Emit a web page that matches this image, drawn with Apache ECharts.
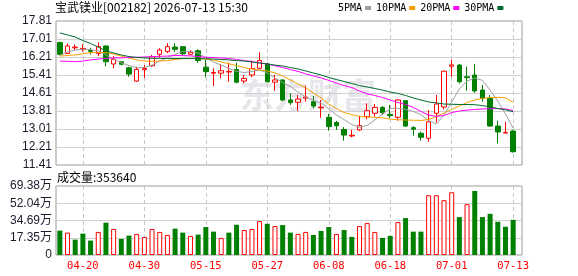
<!DOCTYPE html>
<html><head><meta charset="utf-8">
<script src="https://cdn.jsdelivr.net/npm/echarts@6/dist/echarts.min.js"></script>
<style>html,body{margin:0;padding:0;background:#fff}#c{width:578px;height:276px}</style>
</head><body><div id="c"></div>
<script>
const dates = ['04-15','04-16','04-17','04-20','04-21','04-22','04-23','04-24','04-27','04-28','04-29','04-30',
'05-06','05-07','05-08','05-11','05-12','05-13','05-14','05-15','05-18','05-19','05-20','05-21','05-22','05-25','05-26','05-27','05-28','05-29',
'06-01','06-02','06-03','06-04','06-05','06-08','06-09','06-10','06-11','06-12','06-15','06-16','06-17','06-18','06-22','06-23','06-24','06-25','06-26','06-29','06-30',
'07-01','07-02','07-03','07-06','07-07','07-08','07-09','07-10','07-13'];
const xLabels = ['04-20','04-30','05-15','05-27','06-08','06-18','07-01','07-13'];
const opens  = [16.85,16.37,16.62,16.56,16.50,16.37,16.70,15.90,16.00,15.73,15.14,15.64,15.82,16.33,16.45,16.65,16.67,16.33,16.49,15.76,
15.49,15.49,15.54,15.66,15.14,15.41,15.71,15.90,15.09,15.19,14.30,14.20,14.38,14.22,13.95,13.53,13.30,12.99,12.70,12.97,
13.56,13.71,13.97,13.66,13.53,14.27,13.07,12.82,12.60,13.71,13.99,15.80,15.85,15.33,15.41,14.74,14.37,13.14,12.83,12.92];
const closes = [16.33,16.70,16.65,16.59,16.46,16.67,16.00,16.11,15.89,15.45,15.66,15.70,16.22,16.52,16.67,16.55,16.35,16.42,16.05,15.56,
15.52,15.60,15.57,15.09,15.26,15.70,16.05,15.11,15.19,14.30,14.18,14.34,14.43,14.03,13.98,13.12,13.15,12.74,12.73,13.16,
13.82,13.97,13.73,13.60,14.30,13.14,13.00,12.64,13.33,14.12,15.58,15.86,15.11,15.29,14.70,14.37,13.14,12.88,12.86,12.00];
const lows   = [16.28,16.35,16.52,16.45,16.32,16.25,15.80,15.71,15.83,15.33,15.11,15.28,15.78,16.18,16.39,16.43,16.29,16.30,15.95,15.31,
14.92,15.26,15.11,15.04,15.04,15.31,15.66,15.08,14.71,14.25,14.08,13.82,14.22,13.93,13.51,12.93,12.97,12.49,12.64,12.92,
13.44,13.56,13.63,13.49,13.38,13.10,12.71,12.49,12.45,13.30,13.88,15.33,15.03,14.71,14.62,14.22,13.11,12.37,12.81,11.96];
const highs  = [16.90,16.82,16.77,16.77,16.62,16.86,16.72,16.25,16.02,15.78,15.78,15.85,16.30,16.60,16.82,16.82,16.70,16.51,16.55,16.08,
15.71,15.90,15.96,15.96,15.41,16.05,16.42,15.96,15.41,15.22,14.60,14.52,14.93,14.48,14.30,13.68,13.37,13.09,12.97,13.60,
14.15,14.12,14.03,14.08,14.34,14.30,13.14,12.89,13.85,14.52,15.60,16.08,15.90,15.78,15.90,14.97,14.52,13.38,13.33,12.97];
const ma5  = [16.28,16.44,16.52,16.56,16.54,16.48,16.30,16.12,15.95,15.83,15.74,15.74,15.85,16.03,16.19,16.32,16.46,16.46,16.39,16.17,
15.99,15.85,15.70,15.57,15.52,15.57,15.63,15.50,15.28,15.08,14.90,14.65,14.43,14.28,14.16,13.90,13.63,13.43,13.21,13.08,
13.17,13.41,13.68,13.92,13.93,13.88,13.79,13.65,13.39,13.23,13.63,14.21,14.79,15.14,15.28,15.17,14.74,14.25,13.68,13.05];
const ma10 = [16.25,16.28,16.30,16.35,16.40,16.41,16.40,16.34,16.25,16.17,16.08,16.03,16.02,16.03,16.05,16.10,16.14,16.15,16.14,16.12,
16.08,15.99,15.91,15.83,15.74,15.68,15.63,15.59,15.50,15.37,15.19,15.01,14.83,14.61,14.39,14.12,13.92,13.74,13.65,13.57,
13.54,13.53,13.50,13.45,13.42,13.41,13.40,13.39,13.43,13.57,13.72,13.88,14.03,14.19,14.30,14.37,14.41,14.42,14.39,14.19];
const ma20 = [16.03,16.02,16.00,16.03,16.08,16.12,16.15,16.17,16.17,16.19,16.20,16.21,16.22,16.24,16.25,16.28,16.27,16.26,16.23,16.20,
16.18,16.17,16.14,16.10,16.05,16.01,15.95,15.90,15.82,15.74,15.65,15.57,15.46,15.37,15.28,15.17,15.05,14.94,14.85,14.70,
14.57,14.50,14.41,14.30,14.19,14.10,13.97,13.79,13.63,13.57,13.61,13.74,13.81,13.85,13.88,13.90,13.91,13.92,13.90,13.83];
const ma30 = [17.28,17.19,17.10,16.94,16.81,16.65,16.48,16.39,16.30,16.23,16.19,16.17,16.15,16.15,16.14,16.14,16.14,16.14,16.14,16.13,
16.12,16.10,16.08,16.05,16.03,15.99,15.94,15.90,15.85,15.81,15.74,15.68,15.59,15.50,15.41,15.30,15.21,15.12,15.03,14.94,
14.88,14.81,14.74,14.65,14.59,14.50,14.39,14.30,14.21,14.17,14.12,14.11,14.10,14.10,14.09,14.05,13.99,13.92,13.86,13.78];
const volumes = [245000,225000,155000,215000,145000,232000,325000,262000,162000,195000,212000,182000,262000,232000,202000,265000,225000,192000,205000,281000,
235000,172000,225000,304000,251000,261000,341000,314000,291000,301000,225000,212000,232000,202000,242000,281000,212000,251000,182000,291000,
321000,232000,172000,192000,331000,371000,235000,235000,601000,601000,551000,631000,381000,511000,644000,381000,414000,334000,284000,353640];
const volUp = [0,1,0,0,0,1,0,1,0,0,1,1,1,1,1,0,0,1,0,0,
0,1,0,0,1,1,1,0,1,0,0,1,1,0,0,0,1,0,0,1,
1,1,0,0,1,0,0,0,1,1,1,1,0,1,0,0,0,0,0,0];
const priceTicks = ['11.41','12.21','13.01','13.81','14.61','15.41','16.21','17.01','17.81'];
const volTicks = ['0','17.35万','34.69万','52.04万','69.38万'];
const priceMin = 11.41, priceMax = 17.81, volMax = 693800;
const maNames = ['5PMA','10PMA','20PMA','30PMA'];
const maColors = ['#a0a0a0','#f5a000','#ff00ff','#006a30'];

const chart = echarts.init(document.getElementById('c'), null, {renderer:'canvas'});
const RED = '#ff0000', GREEN = '#008000';
const dash = {show:true, interval:(i,v)=>xLabels.includes(v), alignWithLabel:true, lineStyle:{color:'#c8c8c8', type:[4,3], width:1}};
const hsplit = {show:true, lineStyle:{color:'#d0d0d0', width:1}};
const frameX = (g)=>({type:'value', gridIndex:g, min:0, max:1, show:false});
const option = {
  animation:false,
  backgroundColor:'#fff',
  title:[
    {text:'宝武镁业[002182] 2026-07-13 15:30', left:55, top:1, padding:0,
     textStyle:{fontSize:12, fontWeight:'normal', color:'#000', fontFamily:'Noto Sans CJK SC'}},
    {text:'成交量:' + volumes[volumes.length-1], left:57, top:171, padding:0,
     textStyle:{fontSize:12, fontWeight:'normal', color:'#000', fontFamily:'Noto Sans CJK SC'}}
  ],
  legend:{data:maNames, left:338, top:3, padding:0, align:'right', icon:'rect', itemWidth:6, itemHeight:4, itemGap:5,
    textStyle:{fontSize:10, color:'#000', fontFamily:'DejaVu Sans Mono', padding:[0,-2,0,0]}},
  graphic:[{type:'text', left:240, top:78, z:0, silent:true,
    style:{text:'东方财富', fontSize:34, fontWeight:'bold', fontFamily:'Noto Sans CJK SC', fill:'rgba(200,200,210,0.45)'}}],
  grid:[
    {left:56, top:21, width:466, height:144, show:true, borderColor:'#999', borderWidth:1, backgroundColor:'transparent'},
    {left:56, top:21, width:461, height:144},
    {left:56, top:186, width:466, height:69, show:true, borderColor:'#999', borderWidth:1, backgroundColor:'transparent'},
    {left:56, top:186, width:461, height:69}
  ],
  xAxis:[
    frameX(0),
    {type:'category', gridIndex:1, data:dates, boundaryGap:true, axisLine:{show:false}, axisTick:{show:false}, axisLabel:{show:false}, splitLine:dash},
    frameX(2),
    {type:'category', gridIndex:3, data:dates, boundaryGap:true, axisLine:{show:false}, axisTick:{show:false},
      axisLabel:{show:true, interval:(i,v)=>xLabels.includes(v), color:RED, fontSize:10.5, fontFamily:'DejaVu Sans Mono', margin:6},
      splitLine:dash}
  ],
  yAxis:[
    {type:'value', gridIndex:0, min:0, max:8, interval:1, axisLine:{show:false}, axisTick:{show:false}, splitLine:hsplit,
      axisLabel:{formatter:v=>priceTicks[v], color:'#1a1a2a', fontSize:12, fontFamily:'Liberation Sans', margin:4}},
    {type:'value', gridIndex:1, min:priceMin, max:priceMax, show:false, splitLine:{show:false}},
    {type:'value', gridIndex:2, min:0, max:4, interval:1, axisLine:{show:false}, axisTick:{show:false}, splitLine:hsplit,
      axisLabel:{formatter:v=>volTicks[v], color:'#1a1a2a', fontSize:12, fontFamily:'Liberation Sans, Noto Sans CJK SC', margin:4}},
    {type:'value', gridIndex:3, min:0, max:volMax, show:false, splitLine:{show:false}}
  ],
  series:[
    {type:'candlestick', name:'K', xAxisIndex:1, yAxisIndex:1, barWidth:5, z:3,
      data:dates.map((d,i)=>[opens[i], closes[i], lows[i], highs[i]]),
      itemStyle:{color:'#fff', color0:GREEN, borderColor:RED, borderColor0:GREEN, borderWidth:1}},
    ...[ma5,ma10,ma20,ma30].map((arr,k)=>({type:'line', name:maNames[k], xAxisIndex:1, yAxisIndex:1, data:arr,
      showSymbol:false, symbol:'none', z:4, lineStyle:{width:1, color:maColors[k]}, itemStyle:{color:maColors[k]}})),
    {type:'bar', name:'VOL', xAxisIndex:3, yAxisIndex:3, barWidth:5, z:3,
      data:volumes.map((v,i)=>({value:v, itemStyle: volUp[i] ? {color:'#fff', borderColor:RED, borderWidth:1} : {color:GREEN}}))}
  ]
};
chart.setOption(option);
</script></body></html>
